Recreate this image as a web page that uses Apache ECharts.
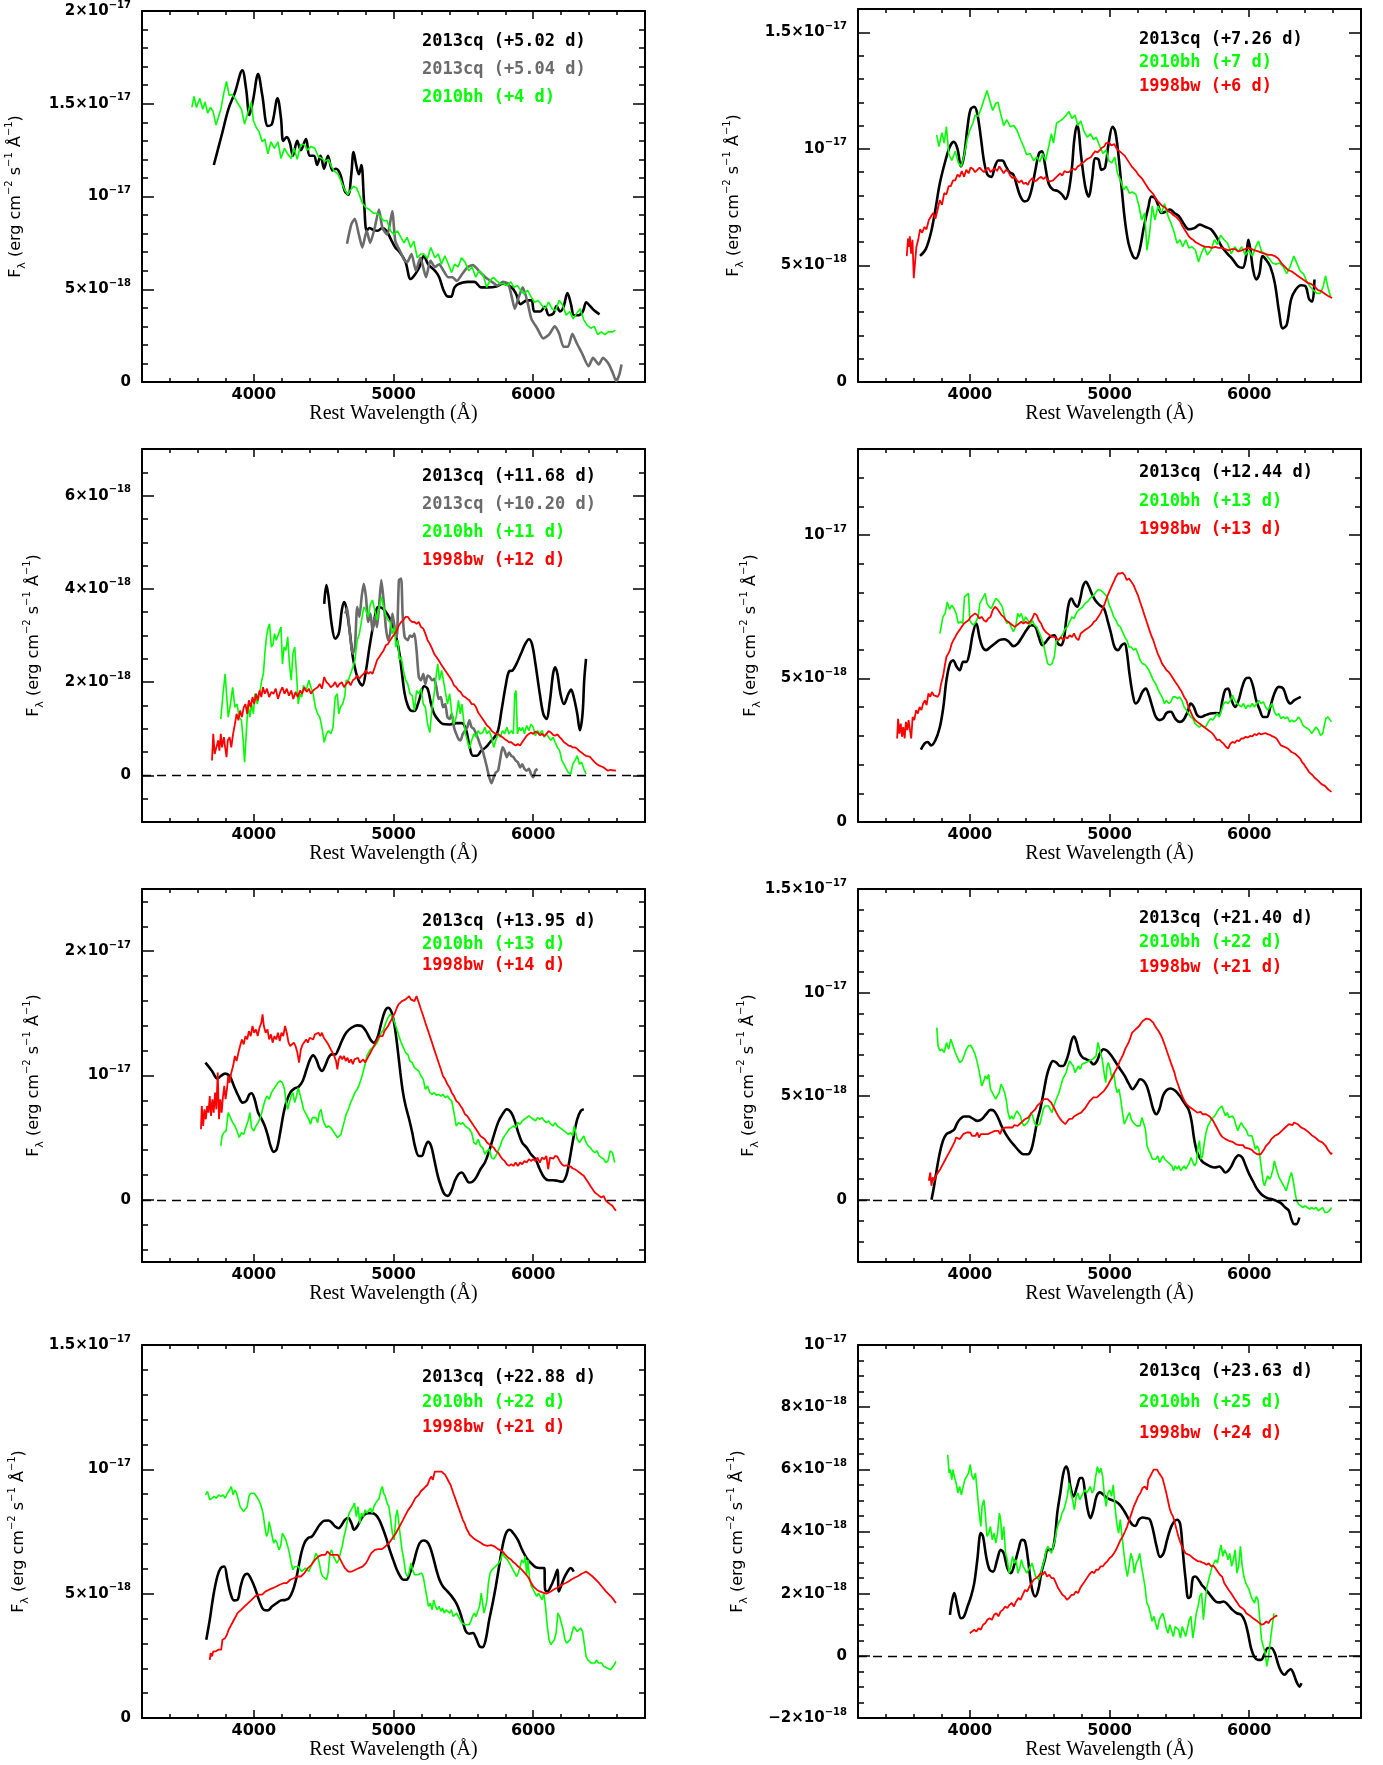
<!DOCTYPE html>
<html>
<head>
<meta charset="utf-8">
<script src="https://cdn.jsdelivr.net/npm/echarts@6/dist/echarts.min.js"></script>
<style>
html, body { margin: 0; background: #fff; }
#chart { width: 1383px; height: 1765px; }
</style>
</head>
<body>
<div id="chart"></div>
<script>
// wavelength in Angstrom, flux in units of 1e-18 erg cm^-2 s^-1 A^-1

// ---- panel 1 ----
const p1Cq = [[3714,11.7],[3770,13.3],[3818,14.7],[3865,15.6],[3918,16.8],[3945,15.8],[3969,14.4],[3995,15.2],[4031,16.6],[4060,15.5],[4101,13.8],[4130,13.9],[4170,15.3],[4195,14.2],[4211,13.0],[4236,13.2],[4258,12.9],[4280,12.2],[4311,13.0],[4336,12.5],[4374,13.1],[4399,12.2],[4431,12.2],[4453,11.7],[4478,12.2],[4503,11.5],[4531,12.2],[4563,11.4],[4588,11.5],[4619,11.2],[4651,10.3],[4676,10.1],[4698,11.2],[4714,12.4],[4733,11.7],[4752,11.2],[4770,11.7],[4789,9.75],[4808,8.15],[4827,8.3],[4855,8.2],[4887,8.15],[4918,8.3],[4950,8.15],[4981,7.7],[5013,7.25],[5044,7.0],[5085,6.5],[5123,5.55],[5154,5.8],[5186,6.2],[5217,6.8],[5248,6.35],[5296,6.0],[5327,5.65],[5358,4.95],[5390,4.6],[5412,4.6],[5437,5.1],[5469,5.3],[5531,5.4],[5579,5.4],[5626,5.1],[5673,5.1],[5736,5.15],[5783,5.3],[5846,5.1],[5877,4.75],[5909,4.2],[5956,4.4],[5987,4.4],[6009,3.8],[6050,3.8],[6082,4.05],[6113,3.6],[6145,3.7],[6167,4.1],[6192,3.8],[6217,4.05],[6245,4.8],[6270,4.2],[6292,3.6],[6324,3.6],[6355,3.8],[6380,4.3],[6406,4.1],[6437,3.85],[6475,3.65]];
const p1CqB = [[4667,7.45],[4698,8.5],[4723,8.8],[4752,7.95],[4777,7.25],[4808,8.15],[4833,7.5],[4865,8.3],[4896,9.3],[4921,8.3],[4956,7.95],[4991,9.2],[5013,7.6],[5044,7.1],[5075,6.6],[5097,6.45],[5129,6.9],[5160,6.0],[5192,6.7],[5233,5.65],[5264,6.55],[5296,6.2],[5327,6.35],[5358,6.0],[5390,5.65],[5421,5.65],[5453,5.45],[5494,5.85],[5531,6.2],[5569,6.3],[5610,6.0],[5657,5.65],[5704,5.4],[5745,5.2],[5783,5.4],[5821,5.3],[5846,4.6],[5868,3.95],[5893,4.5],[5925,5.1],[5956,4.4],[5987,3.4],[6028,2.9],[6072,2.35],[6113,2.55],[6154,3.0],[6186,2.6],[6217,1.9],[6249,1.9],[6280,2.6],[6311,2.1],[6349,1.55],[6396,0.85],[6428,1.3],[6469,0.95],[6500,1.3],[6538,1.0],[6569,0.5],[6594,0.05],[6616,0.4],[6632,0.95]];
const p1Bh = [[3557,14.8],[3572,15.4],[3590,14.8],[3613,15.3],[3635,14.7],[3651,15.1],[3670,14.5],[3690,14.8],[3708,14.6],[3730,13.85],[3748,14.3],[3764,14.7],[3786,15.6],[3805,16.2],[3824,15.45],[3845,15.5],[3865,15.3],[3887,15.0],[3912,14.7],[3934,13.9],[3959,14.55],[3981,15.1],[3997,14.1],[4016,13.75],[4038,13.5],[4060,12.95],[4079,13.1],[4101,12.3],[4123,12.95],[4148,12.6],[4173,12.95],[4195,12.05],[4220,12.6],[4242,12.3],[4267,12.05],[4289,12.6],[4311,12.0],[4336,12.8],[4362,12.8],[4384,12.5],[4409,12.7],[4437,12.6],[4462,12.15],[4487,12.05],[4509,11.9],[4535,12.0],[4557,11.6],[4579,11.35],[4604,11.2],[4626,10.8],[4651,10.35],[4673,10.1],[4692,10.35],[4714,10.55],[4736,10.45],[4755,10.1],[4777,9.65],[4802,9.4],[4827,9.3],[4855,9.1],[4880,9.1],[4903,8.95],[4928,8.7],[4953,8.7],[4978,8.15],[5003,7.95],[5028,8.15],[5053,7.8],[5075,7.5],[5097,7.8],[5123,7.25],[5145,7.6],[5170,6.7],[5195,6.9],[5217,6.9],[5242,6.65],[5267,7.25],[5296,6.7],[5321,6.9],[5343,6.35],[5368,6.8],[5393,6.35],[5415,5.9],[5437,6.35],[5462,6.2],[5487,6.7],[5513,6.45],[5538,6.0],[5563,6.2],[5588,5.65],[5613,6.0],[5642,5.75],[5667,5.1],[5689,5.45],[5714,5.65],[5739,5.45],[5764,5.3],[5789,5.3],[5814,5.2],[5840,5.4],[5862,5.1],[5887,5.2],[5909,4.95],[5934,4.75],[5959,4.95],[5984,4.6],[6009,4.3],[6035,4.4],[6060,4.15],[6085,3.95],[6110,4.3],[6135,3.95],[6160,3.85],[6186,4.4],[6211,4.15],[6236,3.6],[6261,3.8],[6286,3.4],[6311,3.7],[6336,3.95],[6362,3.35],[6387,3.05],[6412,2.9],[6437,3.0],[6462,2.55],[6487,2.7],[6513,2.55],[6538,2.7],[6569,2.7],[6588,2.8]];

// ---- panel 2 ----
const p2Cq = [[3644,5.41],[3685,5.7],[3722,6.4],[3754,7.4],[3785,8.5],[3826,9.5],[3858,10.1],[3886,10.3],[3912,10.0],[3937,9.25],[3959,9.7],[3984,10.95],[4006,11.7],[4032,11.8],[4054,11.5],[4079,10.5],[4101,9.5],[4126,8.9],[4155,8.8],[4180,9.25],[4205,9.5],[4233,9.5],[4259,9.25],[4284,9.0],[4312,8.9],[4338,8.4],[4363,7.95],[4391,7.75],[4416,7.8],[4442,8.25],[4470,9.1],[4495,9.8],[4517,9.9],[4536,9.4],[4565,8.5],[4596,8.25],[4628,8.2],[4659,8.05],[4685,7.85],[4710,8.25],[4732,9.25],[4748,10.4],[4767,11.0],[4779,10.8],[4795,9.8],[4826,8.4],[4852,7.95],[4874,8.65],[4899,9.6],[4921,9.55],[4943,9.1],[4968,9.2],[4994,10.25],[5022,10.95],[5041,10.75],[5063,9.8],[5088,8.25],[5110,6.95],[5136,5.95],[5167,5.4],[5189,5.3],[5215,5.65],[5246,6.65],[5278,7.5],[5300,7.95],[5325,7.9],[5347,7.6],[5372,7.25],[5401,7.3],[5432,7.4],[5464,7.25],[5498,7.1],[5530,6.8],[5568,6.55],[5606,6.6],[5647,6.75],[5688,6.65],[5726,6.55],[5763,6.25],[5804,5.8],[5845,5.5],[5883,5.25],[5921,4.95],[5953,4.9],[5978,5.4],[5994,6.1],[6009,5.65],[6028,4.8],[6050,4.4],[6073,4.65],[6095,5.4],[6120,5.25],[6151,4.95],[6183,4.25],[6215,2.95],[6240,2.3],[6268,2.45],[6300,3.55],[6331,3.95],[6372,4.15],[6404,4.1],[6429,3.55],[6451,3.45],[6467,4.4]];
const p2Bh = [[3763,10.6],[3779,10.1],[3801,10.7],[3817,10.25],[3833,10.95],[3849,9.8],[3871,9.5],[3896,9.9],[3918,9.4],[3940,9.25],[3959,9.7],[3981,10.4],[4000,10.8],[4022,11.1],[4038,11.45],[4060,11.4],[4085,11.8],[4107,12.2],[4123,12.5],[4142,12.1],[4164,11.65],[4186,11.95],[4202,12.0],[4221,11.5],[4243,11.0],[4265,11.25],[4290,10.95],[4315,11.0],[4338,10.8],[4363,10.4],[4385,10.1],[4407,9.75],[4432,9.8],[4457,9.5],[4479,9.65],[4502,9.45],[4521,9.8],[4543,9.5],[4565,10.1],[4584,10.65],[4599,10.25],[4621,11.1],[4647,11.2],[4669,11.3],[4691,11.45],[4710,11.6],[4732,11.3],[4754,11.45],[4773,11.0],[4795,11.2],[4817,10.75],[4842,10.5],[4864,10.65],[4886,10.4],[4905,10.5],[4931,10.1],[4953,9.8],[4975,9.95],[4994,9.5],[5016,9.4],[5038,9.65],[5057,8.95],[5079,8.65],[5101,8.25],[5120,8.4],[5142,8.1],[5164,8.15],[5189,8.05],[5211,7.55],[5230,6.95],[5252,7.25],[5268,5.65],[5287,6.4],[5306,7.55],[5325,6.95],[5347,7.55],[5372,7.25],[5394,7.65],[5420,7.1],[5441,6.8],[5464,6.4],[5483,5.95],[5505,6.1],[5524,5.8],[5546,6.1],[5568,5.75],[5590,5.8],[5615,5.65],[5637,5.15],[5656,5.5],[5678,5.8],[5700,5.45],[5726,5.65],[5751,6.1],[5773,5.9],[5795,6.3],[5820,6.1],[5845,5.95],[5871,5.5],[5896,5.8],[5921,5.6],[5946,5.8],[5972,5.45],[5997,5.65],[6022,5.4],[6047,5.8],[6066,6.05],[6088,5.6],[6114,5.5],[6142,5.3],[6167,5.1],[6192,5.05],[6218,5.1],[6243,4.95],[6268,4.65],[6293,4.95],[6319,5.4],[6341,5.1],[6366,4.75],[6388,4.65],[6413,4.3],[6435,4.1],[6457,3.95],[6483,3.8],[6508,3.8],[6530,4.1],[6546,4.55],[6562,4.1],[6584,3.6]];
const p2Bw = [[3549,5.4],[3558,6.15],[3565,5.8],[3571,6.25],[3580,5.5],[3590,6.1],[3599,4.45],[3606,4.5],[3618,5.8],[3631,6.1],[3644,6.55],[3659,6.4],[3675,6.65],[3690,6.55],[3707,6.95],[3722,7.1],[3738,7.25],[3754,7.0],[3770,7.4],[3785,7.8],[3801,7.6],[3817,8.1],[3833,8.05],[3849,8.4],[3864,8.4],[3880,8.65],[3896,8.65],[3912,8.9],[3927,8.8],[3943,9.05],[3959,8.8],[3975,9.1],[3991,8.95],[4006,9.2],[4022,9.15],[4038,9.0],[4054,9.1],[4070,9.2],[4085,9.1],[4101,9.0],[4117,9.1],[4132,9.2],[4148,9.0],[4164,9.1],[4180,9.15],[4195,9.05],[4211,9.25],[4227,9.1],[4243,8.95],[4258,9.1],[4274,9.05],[4290,8.85],[4306,8.75],[4321,8.8],[4338,8.65],[4353,8.55],[4369,8.65],[4385,8.5],[4401,8.55],[4416,8.45],[4426,8.6],[4448,8.75],[4463,8.6],[4479,8.65],[4495,8.75],[4511,8.8],[4527,8.7],[4543,8.8],[4558,8.65],[4574,8.6],[4596,8.65],[4621,8.8],[4647,8.95],[4662,8.85],[4678,9.05],[4694,9.0],[4710,9.0],[4726,9.1],[4741,9.15],[4757,9.1],[4773,9.25],[4789,9.3],[4804,9.4],[4820,9.45],[4836,9.55],[4852,9.6],[4868,9.65],[4884,9.8],[4899,9.9],[4915,9.85],[4931,9.95],[4946,10.05],[4962,10.1],[4975,10.25],[4984,10.2],[5000,10.25],[5011,10.15],[5022,10.1],[5035,10.2],[5047,10.05],[5060,9.95],[5069,9.95],[5082,9.85],[5095,9.8],[5110,9.7],[5126,9.55],[5142,9.4],[5158,9.25],[5173,9.15],[5189,9.05],[5205,8.9],[5221,8.8],[5236,8.7],[5252,8.55],[5268,8.4],[5284,8.25],[5300,8.15],[5315,8.05],[5331,7.85],[5347,7.75],[5362,7.65],[5378,7.55],[5394,7.5],[5410,7.4],[5426,7.3],[5442,7.25],[5458,7.15],[5473,7.1],[5490,7.0],[5505,6.9],[5521,6.7],[5536,6.55],[5552,6.4],[5568,6.25],[5584,6.15],[5599,6.1],[5615,6.0],[5631,5.95],[5646,5.9],[5662,5.85],[5686,5.8],[5710,5.8],[5733,5.75],[5757,5.8],[5780,5.75],[5804,5.75],[5828,5.7],[5852,5.65],[5875,5.7],[5899,5.7],[5922,5.6],[5946,5.65],[5970,5.7],[5994,5.75],[6018,5.7],[6041,5.65],[6065,5.6],[6088,5.55],[6112,5.5],[6136,5.45],[6160,5.45],[6183,5.4],[6207,5.3],[6230,5.1],[6254,4.95],[6278,4.8],[6302,4.75],[6325,4.65],[6349,4.55],[6372,4.45],[6396,4.35],[6420,4.25],[6444,4.2],[6467,4.1],[6490,3.95],[6514,3.9],[6538,3.8],[6562,3.7],[6593,3.6]];

// ---- panel 3 ----
const p3Cq = [[4504,3.68],[4520,4.08],[4535,3.83],[4557,3.25],[4583,2.93],[4608,3.04],[4630,3.54],[4646,3.72],[4661,3.61],[4683,3.18],[4709,2.54],[4734,2.18],[4756,2.0],[4778,1.93],[4803,2.25],[4828,2.75],[4860,3.29],[4891,3.61],[4923,3.58],[4954,3.47],[4986,3.29],[5017,3.0],[5043,2.61],[5061,2.18],[5080,1.75],[5102,1.5],[5124,1.39],[5150,1.38],[5175,1.53],[5197,1.75],[5219,1.91],[5244,1.86],[5269,1.53],[5291,1.32],[5323,1.18],[5354,1.1],[5402,1.09],[5449,1.12],[5490,1.12],[5521,0.96],[5543,0.64],[5569,0.42],[5597,0.42],[5628,0.53],[5660,0.6],[5691,0.71],[5723,0.82],[5748,0.96],[5773,1.39],[5805,1.96],[5827,2.23],[5852,2.25],[5880,2.39],[5912,2.61],[5943,2.82],[5969,2.92],[5991,2.82],[6016,2.39],[6047,1.75],[6072,1.32],[6094,1.21],[6120,1.61],[6142,2.18],[6157,2.32],[6173,2.18],[6195,1.75],[6220,1.53],[6252,1.75],[6271,1.84],[6290,1.68],[6315,1.32],[6334,0.97],[6353,1.32],[6365,2.04],[6378,2.5]];
const p3CqB = [[4655,3.47],[4668,3.6],[4683,3.18],[4699,2.75],[4709,2.61],[4724,2.75],[4740,3.61],[4756,3.4],[4772,3.83],[4787,4.11],[4803,3.83],[4819,3.29],[4835,3.47],[4850,3.11],[4866,3.4],[4882,3.18],[4898,3.68],[4913,4.19],[4929,3.76],[4945,3.18],[4961,2.9],[4976,3.04],[4992,3.47],[5008,3.18],[5024,2.97],[5039,4.19],[5055,4.22],[5065,3.47],[5080,2.97],[5102,2.9],[5118,3.0],[5134,2.97],[5150,3.04],[5165,2.68],[5181,2.11],[5197,2.04],[5213,2.18],[5228,1.96],[5244,2.14],[5260,2.11],[5276,2.04],[5291,2.07],[5307,1.89],[5323,1.64],[5339,1.68],[5354,1.46],[5370,1.53],[5386,1.25],[5402,1.21],[5417,1.32],[5433,1.03],[5449,0.89],[5465,0.78],[5480,0.75],[5496,0.89],[5512,0.96],[5528,1.03],[5543,1.18],[5559,1.03],[5575,1.0],[5591,0.89],[5606,0.78],[5622,0.64],[5638,0.53],[5654,0.35],[5669,0.17],[5685,-0.04],[5701,-0.17],[5717,-0.04],[5732,0.06],[5748,0.1],[5764,0.35],[5780,0.6],[5795,0.53],[5811,0.39],[5827,0.49],[5843,0.42],[5858,0.39],[5874,0.32],[5890,0.28],[5906,0.17],[5921,0.24],[5937,0.14],[5953,0.1],[5969,0.14],[5984,0.03],[6000,-0.04],[6016,0.1],[6031,0.14]];
const p3Bh = [[3764,1.21],[3780,1.75],[3795,2.18],[3805,2.22],[3817,1.25],[3833,1.53],[3849,1.89],[3865,1.46],[3880,1.53],[3896,1.25],[3912,1.18],[3924,0.75],[3934,0.28],[3946,0.89],[3959,1.53],[3972,1.25],[3984,1.53],[3997,1.32],[4009,1.75],[4025,1.53],[4041,1.75],[4057,2.04],[4069,2.18],[4079,2.61],[4091,2.97],[4104,3.18],[4113,3.25],[4126,2.75],[4139,2.82],[4148,3.04],[4161,2.9],[4173,2.9],[4186,3.11],[4195,3.18],[4205,2.39],[4217,2.75],[4230,2.68],[4243,2.97],[4255,2.39],[4268,2.04],[4280,2.61],[4293,2.75],[4306,2.18],[4318,1.53],[4331,1.75],[4343,1.68],[4356,1.93],[4369,1.82],[4381,1.89],[4394,2.04],[4409,1.89],[4425,1.75],[4441,1.46],[4457,1.32],[4472,1.25],[4488,1.03],[4504,0.71],[4520,0.89],[4535,0.96],[4551,0.89],[4567,1.03],[4583,1.68],[4598,1.75],[4608,1.32],[4620,1.46],[4636,1.53],[4652,1.71],[4661,2.04],[4677,2.04],[4693,2.18],[4709,2.32],[4724,2.47],[4740,2.9],[4756,3.04],[4772,3.33],[4787,3.61],[4803,3.54],[4819,3.4],[4835,3.68],[4850,3.76],[4866,3.54],[4882,3.33],[4898,3.61],[4913,3.83],[4929,3.61],[4945,3.43],[4961,3.33],[4976,3.29],[4992,3.04],[5008,3.18],[5017,2.75],[5030,2.9],[5043,2.47],[5055,2.54],[5071,2.25],[5087,2.04],[5102,1.96],[5118,1.75],[5134,1.71],[5150,1.39],[5165,1.82],[5181,1.75],[5197,1.86],[5213,1.53],[5228,1.46],[5244,1.1],[5260,0.92],[5276,1.46],[5291,1.75],[5307,2.18],[5317,2.39],[5329,2.04],[5345,2.25],[5357,2.04],[5370,1.82],[5386,1.53],[5402,1.75],[5417,1.32],[5433,1.1],[5449,1.25],[5465,1.61],[5477,1.32],[5490,1.53],[5502,1.18],[5515,0.89],[5528,0.75],[5543,0.57],[5559,0.75],[5575,0.89],[5591,0.82],[5606,0.96],[5622,0.89],[5638,0.92],[5654,1.03],[5669,0.89],[5685,0.96],[5701,0.82],[5717,0.6],[5732,0.75],[5748,0.89],[5764,0.82],[5780,0.96],[5795,0.89],[5811,1.03],[5827,0.89],[5843,0.96],[5858,0.89],[5868,1.75],[5877,1.82],[5887,0.89],[5900,1.03],[5912,0.96],[5924,1.03],[5937,0.89],[5953,1.07],[5969,0.96],[5984,1.1],[6000,1.03],[6016,0.85],[6031,0.96],[6047,0.89],[6063,0.96],[6079,0.82],[6094,0.89],[6110,0.82],[6126,0.75],[6142,0.82],[6157,0.71],[6173,0.6],[6189,0.53],[6205,0.32],[6220,0.24],[6236,0.14],[6252,0.06],[6268,0.03],[6283,0.24],[6299,0.32],[6315,0.42],[6331,0.24],[6346,0.28],[6362,0.14],[6378,0.03]];
const p3Bw = [[3701,0.32],[3710,0.89],[3720,0.46],[3732,0.6],[3745,0.75],[3754,0.53],[3764,0.89],[3773,0.6],[3786,0.82],[3795,0.6],[3805,0.39],[3814,0.75],[3827,0.82],[3839,0.6],[3852,0.89],[3865,1.1],[3877,1.32],[3890,1.18],[3902,1.39],[3915,1.25],[3928,1.46],[3940,1.53],[3953,1.32],[3965,1.61],[3978,1.46],[3991,1.68],[4003,1.53],[4016,1.75],[4028,1.61],[4041,1.82],[4054,1.68],[4066,1.89],[4079,1.75],[4094,1.86],[4110,1.68],[4126,1.79],[4142,1.75],[4157,1.86],[4173,1.64],[4189,1.79],[4205,1.89],[4220,1.75],[4236,1.86],[4252,1.71],[4268,1.82],[4283,1.64],[4299,1.79],[4315,1.68],[4331,1.82],[4346,1.75],[4362,1.89],[4378,1.79],[4394,1.86],[4409,1.75],[4425,1.82],[4441,1.86],[4457,1.89],[4472,1.96],[4488,1.86],[4504,2.11],[4520,2.0],[4535,1.96],[4551,1.89],[4567,1.93],[4583,2.0],[4598,1.89],[4614,1.96],[4630,2.0],[4646,1.89],[4661,1.96],[4677,2.02],[4693,1.93],[4709,2.04],[4724,2.07],[4740,2.14],[4756,2.07],[4772,2.14],[4787,2.18],[4803,2.25],[4819,2.18],[4835,2.22],[4850,2.18],[4866,2.32],[4882,2.47],[4898,2.54],[4913,2.61],[4929,2.68],[4945,2.79],[4961,2.82],[4976,2.9],[4992,2.97],[5008,3.04],[5024,3.11],[5039,3.22],[5055,3.29],[5071,3.33],[5087,3.4],[5102,3.4],[5118,3.33],[5134,3.29],[5150,3.29],[5165,3.25],[5181,3.29],[5197,3.18],[5213,3.15],[5228,3.04],[5244,2.9],[5260,2.82],[5276,2.72],[5291,2.61],[5307,2.54],[5323,2.47],[5339,2.39],[5354,2.32],[5370,2.25],[5386,2.18],[5402,2.11],[5417,2.04],[5433,1.93],[5449,1.89],[5465,1.82],[5480,1.79],[5496,1.71],[5512,1.68],[5528,1.64],[5543,1.61],[5559,1.53],[5575,1.53],[5591,1.46],[5606,1.35],[5622,1.28],[5638,1.21],[5654,1.14],[5669,1.07],[5685,1.03],[5701,0.96],[5717,0.92],[5732,0.89],[5748,0.89],[5764,0.85],[5780,0.82],[5795,0.78],[5811,0.75],[5827,0.71],[5843,0.71],[5858,0.67],[5874,0.64],[5890,0.67],[5906,0.64],[5921,0.71],[5937,0.78],[5953,0.85],[5969,0.89],[5984,0.92],[6000,0.89],[6016,0.94],[6031,0.92],[6047,0.86],[6063,0.89],[6079,0.84],[6094,0.89],[6110,0.95],[6126,0.92],[6142,0.87],[6157,0.85],[6173,0.88],[6189,0.82],[6205,0.77],[6220,0.71],[6236,0.68],[6252,0.64],[6268,0.63],[6283,0.6],[6299,0.6],[6315,0.57],[6331,0.52],[6346,0.49],[6362,0.45],[6378,0.42],[6394,0.41],[6409,0.39],[6425,0.33],[6441,0.28],[6457,0.24],[6472,0.21],[6488,0.19],[6504,0.17],[6520,0.13],[6535,0.1],[6551,0.12],[6567,0.11],[6592,0.1]];

// ---- panel 4 ----
const p4Cq = [[3650,2.52],[3676,2.73],[3698,2.79],[3723,2.67],[3754,2.85],[3786,3.31],[3811,4.01],[3833,4.94],[3858,5.52],[3880,5.64],[3906,5.41],[3928,5.29],[3953,5.58],[3975,5.58],[3997,5.87],[4022,6.57],[4047,6.92],[4069,6.45],[4091,6.1],[4117,5.99],[4148,6.1],[4180,6.22],[4211,6.34],[4249,6.37],[4280,6.28],[4312,6.13],[4343,6.22],[4375,6.45],[4406,6.69],[4438,6.86],[4469,6.8],[4494,6.45],[4520,6.16],[4545,6.28],[4573,6.45],[4605,6.51],[4630,6.22],[4652,6.16],[4674,6.4],[4690,7.03],[4709,7.62],[4728,7.79],[4747,7.62],[4769,7.5],[4791,7.79],[4809,8.2],[4831,8.37],[4853,8.2],[4872,7.97],[4898,7.73],[4929,7.56],[4961,7.44],[4986,7.03],[5011,6.57],[5036,6.1],[5061,5.99],[5087,6.16],[5109,6.22],[5124,5.93],[5143,5.17],[5165,4.48],[5187,4.13],[5209,4.24],[5235,4.53],[5260,4.65],[5282,4.42],[5307,4.01],[5332,3.66],[5358,3.55],[5383,3.6],[5408,3.8],[5439,3.84],[5471,3.6],[5502,3.49],[5528,3.55],[5559,3.84],[5581,4.13],[5603,4.01],[5628,3.72],[5654,3.66],[5685,3.72],[5723,3.78],[5761,3.8],[5786,3.78],[5808,4.24],[5827,4.59],[5849,4.65],[5874,4.24],[5899,4.01],[5924,4.24],[5950,4.71],[5975,5.0],[6000,5.03],[6025,4.77],[6050,4.24],[6076,3.9],[6101,3.66],[6126,3.66],[6151,4.01],[6180,4.48],[6211,4.71],[6243,4.65],[6274,4.24],[6296,4.13],[6321,4.24],[6369,4.36]];
const p4Bh = [[3786,6.57],[3795,6.8],[3808,7.15],[3824,7.27],[3839,7.67],[3855,7.41],[3871,7.56],[3887,7.44],[3902,7.27],[3918,6.92],[3934,6.98],[3950,6.92],[3962,7.85],[3975,7.91],[3991,7.97],[4000,7.03],[4013,6.92],[4028,6.86],[4044,6.98],[4060,7.15],[4072,7.62],[4085,7.73],[4098,7.85],[4110,7.97],[4123,7.62],[4139,7.5],[4154,7.44],[4170,7.62],[4186,7.79],[4202,7.73],[4218,7.62],[4233,7.5],[4249,7.15],[4265,6.92],[4280,6.98],[4296,6.8],[4312,6.63],[4328,6.8],[4343,7.27],[4356,7.15],[4369,7.27],[4384,6.98],[4400,7.15],[4416,7.03],[4431,6.86],[4447,7.03],[4463,6.86],[4479,6.8],[4494,6.63],[4510,6.45],[4526,6.22],[4542,5.87],[4557,5.52],[4573,5.47],[4589,5.52],[4605,5.76],[4620,6.34],[4636,6.34],[4652,6.45],[4668,6.57],[4683,6.74],[4699,6.8],[4715,6.98],[4731,7.15],[4746,7.09],[4762,7.27],[4778,7.38],[4794,7.44],[4809,7.5],[4825,7.62],[4841,7.67],[4857,7.76],[4872,7.85],[4888,7.91],[4904,8.02],[4920,8.1],[4935,8.08],[4951,8.02],[4967,7.94],[4983,7.85],[4998,7.56],[5014,7.38],[5030,7.15],[5046,7.03],[5061,6.86],[5077,6.8],[5093,6.63],[5109,6.45],[5124,6.34],[5140,6.1],[5156,6.1],[5172,5.99],[5187,6.05],[5203,5.87],[5219,5.64],[5235,5.52],[5250,5.5],[5266,5.41],[5282,5.29],[5298,5.12],[5313,4.94],[5329,4.83],[5345,4.65],[5361,4.48],[5376,4.36],[5392,4.13],[5408,4.24],[5424,4.13],[5439,4.19],[5455,4.36],[5471,4.36],[5487,4.3],[5502,4.36],[5518,4.24],[5534,4.01],[5550,3.9],[5565,3.78],[5581,3.66],[5597,3.6],[5613,3.43],[5628,3.37],[5644,3.31],[5660,3.37],[5676,3.31],[5691,3.34],[5707,3.49],[5723,3.6],[5739,3.55],[5754,3.66],[5770,3.78],[5786,3.66],[5802,3.9],[5817,4.13],[5833,4.19],[5849,4.13],[5865,4.24],[5880,4.42],[5896,4.24],[5912,4.13],[5928,4.07],[5943,4.01],[5959,4.13],[5975,3.95],[5991,4.07],[6006,4.01],[6022,4.13],[6038,4.01],[6054,4.13],[6069,4.24],[6085,4.13],[6101,4.19],[6117,4.01],[6132,3.9],[6148,4.01],[6164,4.13],[6180,3.84],[6195,3.72],[6211,3.78],[6227,3.6],[6243,3.66],[6258,3.6],[6274,3.66],[6290,3.49],[6306,3.55],[6321,3.49],[6337,3.55],[6353,3.66],[6369,3.55],[6384,3.37],[6400,3.31],[6416,3.26],[6432,3.2],[6447,3.08],[6463,3.2],[6479,3.31],[6495,3.2],[6510,3.02],[6526,3.08],[6535,3.31],[6548,3.6],[6564,3.66],[6580,3.55],[6589,3.49]];
const p4Bw = [[3480,2.91],[3487,3.6],[3496,3.08],[3506,3.43],[3515,2.97],[3524,3.31],[3534,2.91],[3543,3.49],[3553,3.2],[3562,3.55],[3572,3.2],[3581,2.91],[3591,3.66],[3603,3.55],[3616,3.9],[3628,3.78],[3641,4.01],[3654,3.9],[3666,4.13],[3679,4.24],[3691,4.07],[3704,4.48],[3717,4.36],[3729,4.53],[3742,4.42],[3754,4.48],[3770,4.36],[3783,4.48],[3795,4.83],[3808,5.06],[3820,5.41],[3833,5.76],[3846,5.87],[3858,5.99],[3871,6.22],[3883,6.34],[3896,6.45],[3909,6.57],[3921,6.63],[3934,6.74],[3946,6.8],[3959,6.92],[3975,6.98],[3991,7.03],[4006,7.15],[4022,7.21],[4038,7.27],[4054,7.21],[4069,7.09],[4085,7.15],[4101,7.03],[4117,6.98],[4132,7.09],[4148,7.15],[4164,7.38],[4180,7.5],[4195,7.44],[4211,7.33],[4227,7.21],[4243,7.15],[4258,7.03],[4274,6.98],[4290,6.92],[4306,6.86],[4321,6.8],[4337,6.86],[4353,6.92],[4369,6.98],[4384,6.92],[4400,6.98],[4416,6.92],[4431,6.98],[4447,7.09],[4463,7.27],[4479,7.21],[4494,7.03],[4510,6.92],[4526,6.74],[4542,6.63],[4557,6.57],[4573,6.51],[4589,6.45],[4605,6.45],[4620,6.4],[4636,6.34],[4652,6.45],[4668,6.34],[4683,6.45],[4699,6.4],[4715,6.51],[4731,6.45],[4746,6.57],[4762,6.4],[4778,6.34],[4794,6.57],[4809,6.63],[4825,6.69],[4841,6.74],[4857,6.8],[4872,6.86],[4888,6.98],[4904,7.03],[4920,7.15],[4935,7.27],[4951,7.44],[4967,7.62],[4983,7.85],[4998,8.02],[5014,8.2],[5030,8.37],[5046,8.55],[5061,8.66],[5077,8.66],[5093,8.69],[5109,8.6],[5124,8.43],[5140,8.49],[5156,8.37],[5172,8.26],[5187,8.08],[5203,7.91],[5219,7.67],[5235,7.44],[5250,7.21],[5266,6.98],[5282,6.74],[5298,6.51],[5313,6.34],[5329,6.1],[5345,5.87],[5361,5.7],[5376,5.52],[5392,5.41],[5408,5.29],[5424,5.23],[5439,5.12],[5455,5.0],[5471,4.88],[5487,4.77],[5502,4.65],[5518,4.53],[5534,4.36],[5550,4.24],[5565,4.01],[5581,3.84],[5597,3.66],[5613,3.55],[5628,3.49],[5644,3.43],[5660,3.37],[5676,3.31],[5691,3.26],[5707,3.2],[5723,3.14],[5739,3.08],[5754,2.97],[5770,2.85],[5786,2.87],[5802,2.79],[5817,2.73],[5833,2.62],[5849,2.56],[5865,2.73],[5880,2.79],[5896,2.76],[5912,2.85],[5928,2.82],[5943,2.91],[5959,2.91],[5975,2.97],[5990,2.94],[6006,3.0],[6022,2.98],[6038,3.06],[6054,3.03],[6069,3.1],[6085,3.05],[6101,3.08],[6117,3.1],[6132,3.06],[6148,3.04],[6164,2.99],[6180,2.96],[6195,2.91],[6211,2.79],[6227,2.67],[6240,2.66],[6252,2.62],[6265,2.6],[6277,2.56],[6290,2.5],[6302,2.44],[6315,2.42],[6328,2.38],[6340,2.33],[6353,2.27],[6366,2.2],[6378,2.09],[6391,2.02],[6403,1.92],[6416,1.84],[6428,1.74],[6441,1.7],[6454,1.63],[6466,1.55],[6479,1.51],[6491,1.45],[6504,1.4],[6517,1.32],[6529,1.28],[6542,1.26],[6554,1.22],[6566,1.13],[6573,1.1],[6589,1.05]];

// ---- panel 5 ----
const p5Cq = [[3654,11.03],[3701,10.36],[3739,9.75],[3764,9.96],[3795,10.15],[3827,9.96],[3858,9.16],[3890,8.35],[3921,7.82],[3946,7.95],[3969,8.49],[3984,8.57],[4006,8.09],[4031,7.01],[4057,6.48],[4079,5.94],[4101,5.14],[4120,4.34],[4142,3.86],[4164,4.07],[4189,5.41],[4214,7.01],[4236,7.95],[4261,8.62],[4290,8.94],[4321,9.1],[4350,9.56],[4378,10.5],[4403,11.3],[4425,11.62],[4447,11.3],[4469,10.63],[4488,10.36],[4510,10.76],[4535,11.43],[4557,11.7],[4583,11.7],[4605,12.1],[4630,12.77],[4661,13.44],[4699,13.84],[4740,14.03],[4772,13.98],[4803,13.57],[4835,12.9],[4860,12.64],[4885,13.04],[4913,14.24],[4939,15.18],[4961,15.45],[4986,15.1],[5008,13.98],[5030,12.1],[5049,10.23],[5068,8.62],[5087,7.55],[5112,6.48],[5134,5.41],[5156,4.2],[5181,3.53],[5203,3.53],[5225,4.2],[5247,4.66],[5269,4.34],[5291,3.27],[5317,1.93],[5339,1.12],[5364,0.46],[5389,0.32],[5414,0.72],[5439,1.53],[5465,2.06],[5490,2.2],[5515,1.79],[5540,1.39],[5565,1.45],[5591,1.79],[5622,2.46],[5654,3.0],[5685,3.94],[5717,5.14],[5748,6.21],[5780,6.88],[5811,7.28],[5843,7.01],[5868,6.35],[5893,5.41],[5921,4.61],[5953,4.2],[5984,3.67],[6016,3.27],[6047,2.46],[6079,1.79],[6110,1.58],[6142,1.58],[6173,1.53],[6205,1.45],[6236,1.93],[6261,3.27],[6290,5.14],[6315,6.48],[6340,7.15],[6362,7.28]];
const p5Bh = [[3764,4.34],[3773,5.14],[3786,5.41],[3802,5.54],[3817,7.01],[3833,6.61],[3849,6.21],[3865,5.94],[3880,5.54],[3896,5.01],[3912,5.41],[3928,5.27],[3943,5.81],[3959,6.35],[3972,7.01],[3984,5.81],[4000,5.54],[4016,5.94],[4031,6.21],[4047,6.61],[4063,7.28],[4079,7.95],[4094,8.35],[4110,8.09],[4126,8.62],[4142,8.89],[4157,9.16],[4173,9.42],[4189,9.56],[4205,9.42],[4220,8.89],[4230,7.95],[4243,7.28],[4255,7.82],[4268,8.35],[4280,8.62],[4293,7.82],[4306,8.35],[4318,9.02],[4331,8.89],[4343,7.95],[4356,7.28],[4369,7.01],[4381,6.88],[4394,6.48],[4406,6.08],[4419,6.61],[4431,6.75],[4444,6.61],[4457,6.21],[4469,7.01],[4482,7.28],[4494,6.48],[4507,6.08],[4520,5.81],[4535,5.94],[4551,5.81],[4567,5.54],[4583,5.27],[4598,5.01],[4611,4.87],[4624,5.27],[4636,5.81],[4649,6.35],[4661,6.88],[4677,7.28],[4693,7.82],[4709,8.22],[4724,8.62],[4740,8.89],[4756,9.29],[4772,9.83],[4787,10.5],[4797,10.9],[4809,11.57],[4822,11.83],[4835,12.1],[4850,12.24],[4866,12.37],[4882,12.64],[4898,13.04],[4913,13.44],[4929,13.71],[4945,14.24],[4961,14.65],[4976,14.91],[4992,14.78],[5008,14.24],[5024,13.71],[5039,13.17],[5055,12.64],[5071,12.24],[5087,11.83],[5102,11.7],[5118,11.16],[5134,11.03],[5150,10.63],[5165,10.5],[5181,10.36],[5197,9.96],[5213,9.69],[5228,8.89],[5244,9.16],[5260,8.62],[5276,8.49],[5291,8.62],[5307,8.41],[5323,8.49],[5339,8.35],[5354,8.49],[5370,8.22],[5386,8.35],[5402,8.09],[5417,7.95],[5433,7.01],[5449,5.94],[5465,6.21],[5480,6.08],[5496,6.21],[5512,5.94],[5528,5.81],[5543,5.68],[5559,5.41],[5575,4.61],[5591,4.47],[5606,4.87],[5622,4.34],[5638,4.2],[5654,3.67],[5669,3.94],[5685,4.07],[5701,3.4],[5717,3.27],[5732,3.53],[5748,3.94],[5764,4.34],[5780,4.87],[5795,5.14],[5811,5.41],[5827,5.68],[5843,5.81],[5858,5.94],[5874,5.81],[5890,6.21],[5906,6.08],[5921,6.35],[5937,6.48],[5953,6.61],[5969,6.75],[5984,6.61],[6000,6.48],[6016,6.35],[6031,6.61],[6047,6.48],[6063,6.61],[6079,6.35],[6094,6.21],[6110,6.35],[6126,6.08],[6142,5.94],[6157,6.21],[6173,5.94],[6189,5.81],[6205,5.68],[6220,5.54],[6236,5.41],[6252,5.27],[6268,5.41],[6283,5.14],[6293,5.94],[6302,5.94],[6315,4.87],[6331,4.61],[6346,4.87],[6362,5.14],[6378,4.61],[6394,4.34],[6409,4.2],[6425,3.94],[6441,3.8],[6457,3.94],[6472,3.53],[6488,3.4],[6504,3.27],[6520,3.0],[6535,3.13],[6551,3.94],[6567,3.8],[6583,3.0]];
const p5Bw = [[3622,5.68],[3628,7.55],[3638,5.94],[3647,7.28],[3657,6.48],[3666,7.55],[3676,7.01],[3685,8.35],[3694,6.75],[3704,8.09],[3713,7.01],[3723,8.62],[3732,7.28],[3742,10.23],[3751,6.48],[3761,8.09],[3770,7.01],[3780,8.35],[3789,9.16],[3798,8.09],[3808,8.89],[3817,9.96],[3827,9.42],[3839,10.23],[3852,10.76],[3865,11.57],[3877,11.16],[3890,11.83],[3902,12.37],[3915,12.9],[3928,12.5],[3940,13.17],[3953,12.9],[3965,13.57],[3978,13.17],[3991,13.98],[4003,13.44],[4016,13.71],[4028,13.17],[4041,13.84],[4054,14.24],[4063,14.91],[4072,13.98],[4085,13.44],[4098,13.71],[4110,12.9],[4123,13.31],[4135,12.64],[4148,13.17],[4161,12.9],[4173,13.44],[4186,12.77],[4198,13.44],[4211,13.17],[4224,13.98],[4236,13.44],[4249,12.64],[4261,12.37],[4274,12.24],[4287,12.64],[4299,12.37],[4312,11.83],[4324,11.03],[4337,12.1],[4350,12.5],[4362,12.37],[4375,12.9],[4387,12.64],[4400,13.04],[4413,13.17],[4425,12.9],[4438,13.31],[4450,13.17],[4463,13.44],[4476,13.17],[4488,13.44],[4501,13.04],[4513,13.17],[4526,12.64],[4539,12.37],[4551,12.1],[4564,11.83],[4576,11.57],[4589,11.16],[4598,10.5],[4608,11.3],[4620,11.57],[4633,11.3],[4646,11.57],[4658,11.16],[4671,11.43],[4683,11.03],[4696,11.3],[4709,10.9],[4721,11.3],[4734,11.16],[4746,11.43],[4759,11.03],[4772,11.16],[4784,11.3],[4797,11.03],[4809,11.3],[4822,11.57],[4835,11.83],[4847,12.1],[4860,12.37],[4872,12.64],[4885,12.9],[4898,13.17],[4910,13.31],[4923,13.17],[4935,13.57],[4948,13.44],[4961,13.98],[4973,14.24],[4986,14.51],[4998,14.78],[5011,15.05],[5024,15.45],[5036,15.72],[5049,15.85],[5061,15.98],[5074,15.98],[5087,16.12],[5099,16.25],[5112,16.39],[5124,16.12],[5137,16.25],[5150,15.98],[5165,16.39],[5181,15.85],[5197,15.31],[5213,14.78],[5228,14.24],[5244,13.71],[5260,13.17],[5276,12.64],[5291,12.1],[5307,11.57],[5323,11.03],[5339,10.5],[5354,9.96],[5370,9.69],[5386,9.29],[5402,9.02],[5417,8.62],[5433,8.35],[5449,7.95],[5465,7.82],[5480,7.55],[5496,7.28],[5512,6.88],[5528,6.75],[5543,6.48],[5559,6.21],[5575,5.94],[5591,5.68],[5606,5.41],[5622,5.14],[5638,5.01],[5654,4.87],[5669,4.61],[5685,4.47],[5701,4.34],[5717,4.2],[5732,3.94],[5748,3.8],[5764,3.53],[5780,3.27],[5795,3.13],[5811,2.86],[5827,2.73],[5843,2.86],[5858,2.73],[5874,3.0],[5890,2.73],[5906,3.0],[5921,2.86],[5937,3.13],[5953,3.0],[5969,3.27],[5984,3.13],[6000,3.27],[6016,3.13],[6031,3.4],[6047,3.0],[6063,3.4],[6079,3.27],[6094,3.53],[6107,2.46],[6120,3.4],[6132,3.53],[6145,3.32],[6157,3.53],[6173,3.48],[6189,3.13],[6205,2.86],[6220,2.73],[6236,2.78],[6252,2.73],[6268,2.68],[6283,2.52],[6299,2.46],[6315,2.33],[6331,2.2],[6346,2.06],[6362,1.93],[6378,1.66],[6394,1.39],[6409,1.12],[6425,0.86],[6441,0.59],[6457,0.46],[6472,0.32],[6488,0.19],[6504,0.32],[6520,-0.08],[6535,-0.21],[6551,-0.35],[6567,-0.48],[6583,-0.75],[6592,-0.88]];

// ---- panel 6 ----
const p6Cq = [[3726,0],[3745,0.68],[3764,1.48],[3786,2.28],[3808,2.85],[3833,3.17],[3865,3.28],[3890,3.41],[3912,3.73],[3934,3.92],[3959,4.02],[3991,4.02],[4022,3.92],[4054,3.81],[4085,3.89],[4117,4.13],[4148,4.34],[4173,4.29],[4202,3.97],[4227,3.57],[4258,3.17],[4290,2.85],[4321,2.6],[4353,2.36],[4384,2.2],[4416,2.2],[4441,2.44],[4463,3.09],[4485,3.89],[4504,4.37],[4526,5.1],[4551,5.98],[4573,6.46],[4595,6.7],[4620,6.62],[4646,6.46],[4668,6.46],[4690,6.7],[4709,7.11],[4728,7.67],[4746,7.88],[4765,7.59],[4784,7.11],[4809,6.86],[4835,6.78],[4860,6.7],[4885,6.54],[4910,6.7],[4935,7.11],[4957,7.27],[4983,7.19],[5014,6.95],[5046,6.62],[5077,6.3],[5109,5.98],[5140,5.58],[5165,5.34],[5194,5.58],[5219,5.82],[5244,5.74],[5266,5.5],[5288,5.02],[5313,4.37],[5335,4.13],[5357,4.37],[5383,5.02],[5408,5.29],[5439,5.37],[5471,5.26],[5502,5.02],[5534,4.69],[5565,4.37],[5587,3.81],[5606,2.93],[5628,2.28],[5660,1.88],[5691,1.72],[5723,1.61],[5754,1.56],[5786,1.61],[5808,1.48],[5827,1.32],[5849,1.4],[5874,1.64],[5899,1.99],[5924,2.15],[5950,2.04],[5975,1.64],[6000,1.24],[6025,0.92],[6050,0.59],[6076,0.35],[6101,0.19],[6132,0.08],[6164,0.03],[6195,-0.05],[6227,-0.16],[6258,-0.37],[6284,-0.53],[6302,-0.93],[6321,-1.17],[6337,-1.17],[6359,-0.85]];
const p6Bh = [[3764,8.31],[3773,7.43],[3786,7.19],[3801,7.27],[3817,7.11],[3833,7.59],[3849,7.27],[3864,7.75],[3880,7.43],[3896,7.11],[3912,6.86],[3928,6.62],[3943,6.7],[3959,6.95],[3975,7.27],[3991,7.43],[4006,7.46],[4022,7.27],[4038,7.03],[4054,6.62],[4069,6.14],[4085,5.5],[4101,5.74],[4110,5.98],[4123,5.82],[4135,6.06],[4148,5.34],[4161,5.18],[4173,5.02],[4186,4.86],[4198,4.94],[4211,5.18],[4224,5.58],[4236,5.42],[4249,5.18],[4262,4.78],[4274,4.21],[4287,3.89],[4299,4.05],[4312,3.89],[4325,4.13],[4337,4.29],[4350,4.21],[4362,4.05],[4375,3.73],[4387,3.57],[4400,3.65],[4413,3.73],[4425,3.89],[4438,4.21],[4450,4.05],[4463,3.73],[4476,3.57],[4488,3.49],[4501,3.65],[4513,3.97],[4526,4.37],[4539,4.53],[4551,4.61],[4564,4.53],[4576,4.37],[4589,4.21],[4602,4.53],[4614,4.78],[4627,4.86],[4639,5.18],[4652,5.5],[4665,5.82],[4677,5.98],[4690,6.14],[4702,6.46],[4715,6.7],[4728,6.78],[4740,6.46],[4753,6.14],[4765,6.3],[4778,6.46],[4791,6.3],[4803,6.54],[4816,6.46],[4828,6.62],[4841,6.54],[4854,6.7],[4866,6.62],[4879,6.78],[4891,6.7],[4904,6.95],[4917,7.59],[4926,7.67],[4935,7.11],[4948,6.78],[4961,6.14],[4973,5.66],[4983,6.46],[4992,6.62],[5005,6.3],[5017,5.82],[5030,6.14],[5043,5.5],[5055,5.18],[5068,5.34],[5080,4.86],[5093,4.21],[5106,3.65],[5118,3.73],[5131,4.05],[5143,4.21],[5156,3.89],[5169,3.73],[5181,3.81],[5194,3.57],[5206,3.49],[5219,3.57],[5232,3.97],[5244,4.05],[5257,3.41],[5269,2.6],[5282,2.36],[5295,2.2],[5307,1.96],[5320,2.04],[5332,1.96],[5345,2.12],[5358,1.8],[5370,1.88],[5383,2.12],[5395,1.96],[5408,2.04],[5421,1.8],[5433,1.88],[5446,1.64],[5458,1.4],[5471,1.64],[5484,1.48],[5496,1.64],[5509,1.4],[5521,1.48],[5534,1.64],[5546,1.48],[5559,1.64],[5572,1.8],[5584,2.04],[5597,1.8],[5609,1.64],[5622,1.8],[5635,2.6],[5644,2.85],[5654,1.96],[5666,2.12],[5679,2.77],[5691,3.25],[5704,3.57],[5717,3.73],[5729,3.89],[5742,3.97],[5754,4.05],[5767,4.13],[5780,4.37],[5792,4.45],[5805,4.53],[5817,4.29],[5830,4.05],[5843,4.21],[5855,3.97],[5868,3.89],[5880,4.05],[5893,3.89],[5906,3.57],[5918,3.33],[5931,3.57],[5943,3.73],[5956,3.57],[5969,3.49],[5981,3.33],[5994,3.09],[6006,3.01],[6019,3.09],[6032,2.77],[6044,2.44],[6057,2.6],[6069,2.44],[6082,1.8],[6091,1.32],[6101,0.84],[6110,0.68],[6120,0.92],[6132,1.16],[6145,1.0],[6158,1.16],[6170,1.48],[6180,1.88],[6189,1.8],[6202,1.32],[6214,1.08],[6227,0.92],[6240,0.76],[6252,0.68],[6265,0.43],[6277,0.51],[6290,1.08],[6302,1.32],[6315,0.92],[6328,0.35],[6340,-0.05],[6353,-0.21],[6369,-0.29],[6384,-0.37],[6400,-0.29],[6416,-0.37],[6432,-0.45],[6447,-0.37],[6463,-0.45],[6479,-0.37],[6495,-0.53],[6510,-0.45],[6526,-0.37],[6542,-0.61],[6557,-0.61],[6573,-0.53],[6589,-0.37]];
const p6Bw = [[3707,0.92],[3717,1.32],[3726,0.68],[3735,1.08],[3745,0.92],[3754,1.08],[3764,1.24],[3776,1.32],[3789,1.48],[3801,1.64],[3814,1.8],[3827,1.88],[3839,2.12],[3852,2.28],[3865,2.44],[3877,2.6],[3890,2.77],[3902,3.01],[3915,3.09],[3928,2.93],[3940,3.01],[3953,3.17],[3965,3.09],[3978,3.25],[3991,3.17],[4003,3.25],[4016,3.09],[4028,3.17],[4041,3.09],[4054,3.25],[4066,3.01],[4079,3.17],[4091,3.09],[4104,3.17],[4117,3.25],[4129,3.17],[4142,3.09],[4154,3.25],[4167,3.17],[4180,3.33],[4192,3.25],[4205,3.33],[4217,3.17],[4230,3.41],[4243,3.33],[4255,3.49],[4268,3.57],[4280,3.49],[4293,3.57],[4306,3.49],[4318,3.6],[4331,3.65],[4343,3.57],[4356,3.65],[4369,3.73],[4381,3.81],[4394,3.89],[4406,3.81],[4419,3.97],[4431,4.05],[4444,4.21],[4457,4.29],[4469,4.37],[4482,4.53],[4494,4.61],[4507,4.69],[4520,4.78],[4532,4.86],[4545,4.78],[4557,4.86],[4570,4.78],[4583,4.69],[4595,4.53],[4608,4.37],[4620,4.21],[4633,4.05],[4646,3.92],[4658,3.81],[4671,3.73],[4683,3.65],[4696,3.73],[4709,3.89],[4721,3.81],[4734,3.92],[4746,4.02],[4759,4.08],[4772,4.13],[4784,4.05],[4797,4.21],[4809,4.29],[4822,4.4],[4835,4.53],[4847,4.61],[4860,4.78],[4872,4.86],[4885,4.94],[4898,4.86],[4910,4.94],[4923,5.02],[4935,5.1],[4948,5.18],[4961,5.26],[4973,5.34],[4986,5.5],[4998,5.66],[5011,5.82],[5024,5.98],[5036,6.14],[5049,6.3],[5061,6.46],[5074,6.7],[5087,6.86],[5099,7.03],[5112,7.27],[5124,7.43],[5137,7.59],[5150,7.83],[5162,8.07],[5175,8.15],[5187,8.23],[5200,8.31],[5213,8.39],[5225,8.52],[5238,8.63],[5250,8.71],[5263,8.75],[5276,8.79],[5288,8.71],[5301,8.63],[5313,8.55],[5326,8.39],[5339,8.26],[5351,8.15],[5364,7.99],[5376,7.83],[5389,7.59],[5402,7.35],[5414,7.11],[5427,6.86],[5439,6.62],[5452,6.38],[5465,6.14],[5477,5.82],[5490,5.58],[5502,5.34],[5515,5.1],[5528,4.89],[5540,4.73],[5553,4.61],[5565,4.53],[5578,4.45],[5591,4.37],[5603,4.34],[5616,4.29],[5628,4.21],[5641,4.18],[5654,4.24],[5666,4.13],[5679,4.21],[5691,4.13],[5704,4.05],[5717,4.02],[5729,3.92],[5742,3.81],[5754,3.65],[5767,3.49],[5780,3.33],[5792,3.17],[5805,3.05],[5817,3.01],[5830,2.93],[5843,2.85],[5855,2.85],[5868,2.77],[5880,2.8],[5893,2.73],[5906,2.68],[5918,2.73],[5931,2.64],[5943,2.6],[5956,2.64],[5969,2.52],[5981,2.6],[5994,2.48],[6006,2.52],[6019,2.41],[6032,2.31],[6044,2.28],[6057,2.2],[6069,2.25],[6082,2.2],[6094,2.28],[6107,2.44],[6120,2.6],[6132,2.68],[6145,2.77],[6158,2.93],[6170,3.01],[6183,3.09],[6195,3.05],[6208,3.17],[6220,3.25],[6233,3.33],[6246,3.41],[6258,3.49],[6271,3.57],[6284,3.65],[6296,3.7],[6309,3.6],[6321,3.73],[6334,3.65],[6347,3.65],[6359,3.57],[6372,3.49],[6384,3.44],[6397,3.41],[6410,3.33],[6422,3.28],[6435,3.22],[6447,3.12],[6460,3.09],[6472,3.01],[6485,2.93],[6498,2.85],[6510,2.85],[6523,2.77],[6536,2.68],[6548,2.6],[6561,2.44],[6573,2.36],[6586,2.2],[6592,2.28]];

// ---- panel 7 ----
const p7Cq = [[3660,3.15],[3685,3.95],[3710,4.89],[3739,5.69],[3764,6.03],[3789,6.09],[3811,5.56],[3833,5.02],[3858,4.73],[3883,4.75],[3906,5.29],[3928,5.69],[3953,5.8],[3978,5.62],[4009,5.22],[4041,4.69],[4072,4.35],[4101,4.33],[4132,4.49],[4164,4.62],[4195,4.73],[4227,4.75],[4252,4.82],[4277,5.09],[4299,5.49],[4321,6.09],[4340,6.63],[4362,7.03],[4387,7.23],[4416,7.3],[4441,7.5],[4472,7.77],[4504,7.93],[4535,7.94],[4557,7.86],[4583,7.7],[4608,7.63],[4630,7.77],[4652,7.97],[4677,8.04],[4699,7.83],[4718,7.57],[4740,7.7],[4765,7.97],[4791,8.17],[4819,8.24],[4844,8.24],[4872,8.17],[4898,7.97],[4923,7.63],[4948,7.23],[4973,6.76],[4998,6.36],[5024,5.96],[5049,5.69],[5071,5.56],[5093,5.56],[5118,5.83],[5143,6.23],[5165,6.7],[5187,7.03],[5213,7.14],[5238,7.1],[5260,6.9],[5282,6.5],[5307,5.96],[5329,5.56],[5354,5.29],[5386,5.09],[5417,4.89],[5449,4.62],[5474,4.29],[5496,3.88],[5518,3.48],[5543,3.39],[5569,3.42],[5591,3.21],[5616,2.88],[5638,2.85],[5660,3.15],[5685,3.95],[5710,4.62],[5732,5.29],[5754,6.03],[5780,6.9],[5805,7.43],[5830,7.57],[5858,7.43],[5890,7.16],[5921,6.76],[5953,6.43],[5984,6.23],[6016,6.07],[6047,6.03],[6079,6.03],[6085,5.16],[6101,5.09],[6126,5.29],[6151,5.62],[6173,5.96],[6183,5.09],[6198,5.29],[6220,5.62],[6246,5.89],[6268,6.03],[6290,5.89]];
const p7Bh = [[3654,8.97],[3669,9.11],[3685,8.77],[3701,8.84],[3716,8.91],[3732,8.84],[3748,8.97],[3764,8.91],[3780,8.97],[3795,8.84],[3811,9.04],[3827,9.17],[3839,9.31],[3852,8.97],[3865,9.17],[3877,9.04],[3890,9.11],[3902,8.5],[3915,8.44],[3928,8.3],[3940,8.37],[3953,8.5],[3965,8.91],[3978,9.04],[3991,9.11],[4003,9.04],[4016,8.97],[4028,8.84],[4041,8.7],[4054,8.5],[4066,8.24],[4079,7.7],[4091,7.3],[4101,7.43],[4110,7.9],[4123,7.83],[4132,7.3],[4142,7.03],[4154,7.16],[4167,7.03],[4180,6.76],[4192,6.9],[4205,7.43],[4217,7.3],[4230,7.16],[4243,6.9],[4255,6.63],[4268,6.23],[4280,5.96],[4293,6.09],[4306,6.16],[4318,6.09],[4331,6.03],[4343,5.89],[4356,5.83],[4369,6.03],[4381,6.09],[4394,5.89],[4406,5.96],[4419,6.23],[4431,6.36],[4444,6.63],[4457,6.5],[4469,6.23],[4482,5.83],[4494,5.69],[4507,5.62],[4520,5.56],[4532,5.83],[4545,6.63],[4557,6.76],[4570,6.5],[4583,6.36],[4595,6.23],[4608,6.36],[4620,6.63],[4633,6.9],[4646,7.3],[4658,7.57],[4671,7.97],[4683,8.24],[4696,8.17],[4709,8.5],[4721,8.64],[4734,8.1],[4746,8.5],[4759,7.83],[4772,8.24],[4784,8.1],[4797,8.37],[4809,8.24],[4822,8.3],[4835,8.44],[4847,8.24],[4860,8.5],[4872,8.64],[4885,8.7],[4898,8.84],[4910,9.17],[4920,9.31],[4929,9.04],[4942,8.91],[4954,8.64],[4967,8.5],[4980,7.97],[4992,7.43],[5005,7.16],[5017,8.1],[5027,8.37],[5036,7.97],[5049,7.3],[5061,6.76],[5074,6.36],[5087,5.83],[5099,5.69],[5112,5.83],[5124,6.23],[5137,5.96],[5150,5.76],[5162,5.69],[5175,5.76],[5187,5.69],[5200,5.83],[5213,5.69],[5225,5.29],[5238,4.89],[5250,4.49],[5263,4.62],[5276,4.35],[5288,4.75],[5301,4.49],[5313,4.35],[5326,4.49],[5339,4.29],[5351,4.42],[5364,4.22],[5376,4.35],[5389,4.42],[5402,4.22],[5414,4.35],[5427,4.08],[5439,4.02],[5452,4.22],[5465,4.08],[5477,3.95],[5490,3.82],[5502,3.88],[5515,3.75],[5528,3.82],[5540,3.75],[5553,3.88],[5565,4.08],[5578,4.22],[5591,4.08],[5603,4.29],[5616,4.49],[5628,5.02],[5638,4.62],[5647,4.22],[5660,4.49],[5669,4.75],[5679,5.42],[5691,5.83],[5704,5.96],[5717,6.03],[5729,6.09],[5742,6.16],[5754,6.23],[5767,6.36],[5780,6.63],[5792,6.5],[5805,6.43],[5817,6.36],[5830,6.3],[5843,6.09],[5855,6.03],[5868,5.83],[5880,5.69],[5893,5.83],[5906,6.09],[5918,6.36],[5931,6.23],[5943,6.5],[5953,5.76],[5962,6.36],[5975,5.56],[5987,5.29],[6000,5.16],[6013,5.02],[6025,4.89],[6038,5.02],[6050,4.89],[6063,4.75],[6076,5.02],[6088,4.49],[6101,3.68],[6113,3.15],[6126,2.95],[6139,2.88],[6151,3.15],[6164,3.42],[6176,4.22],[6189,4.08],[6202,4.02],[6214,3.55],[6227,3.15],[6239,3.01],[6252,2.95],[6265,3.15],[6277,3.42],[6290,3.68],[6302,3.75],[6315,3.48],[6328,3.55],[6340,3.62],[6353,3.48],[6365,3.42],[6378,2.48],[6391,2.34],[6403,2.28],[6416,2.21],[6428,2.28],[6441,2.21],[6454,2.34],[6466,2.21],[6479,2.14],[6491,2.21],[6504,2.08],[6517,2.14],[6529,2.01],[6542,2.08],[6554,1.94],[6567,2.01],[6580,2.14],[6592,2.28]];
const p7Bw = [[3685,2.34],[3691,2.61],[3701,2.48],[3710,2.68],[3720,2.61],[3729,2.68],[3739,2.61],[3748,2.75],[3758,2.81],[3767,2.75],[3776,3.15],[3786,3.08],[3795,3.21],[3808,3.35],[3820,3.55],[3833,3.62],[3846,3.82],[3858,3.95],[3871,4.08],[3883,4.22],[3896,4.29],[3909,4.35],[3921,4.42],[3934,4.49],[3946,4.55],[3959,4.62],[3972,4.69],[3984,4.75],[3997,4.82],[4009,4.89],[4022,4.89],[4035,4.96],[4047,4.92],[4060,4.96],[4072,5.02],[4085,5.09],[4098,5.09],[4110,5.16],[4123,5.22],[4135,5.22],[4148,5.29],[4161,5.29],[4173,5.36],[4186,5.36],[4198,5.42],[4211,5.42],[4224,5.49],[4236,5.42],[4249,5.49],[4261,5.56],[4274,5.49],[4287,5.62],[4299,5.56],[4312,5.69],[4324,5.62],[4337,5.69],[4350,5.76],[4362,5.83],[4375,5.89],[4387,6.03],[4400,6.03],[4413,6.16],[4425,6.23],[4438,6.36],[4450,6.43],[4463,6.5],[4476,6.56],[4488,6.56],[4501,6.63],[4513,6.56],[4526,6.7],[4539,6.63],[4551,6.56],[4564,6.63],[4576,6.56],[4589,6.5],[4602,6.56],[4614,6.43],[4627,6.29],[4639,6.16],[4652,6.03],[4665,5.96],[4677,5.89],[4690,5.83],[4702,5.89],[4715,5.83],[4728,5.96],[4740,5.89],[4753,6.03],[4765,6.03],[4778,6.09],[4791,6.16],[4803,6.23],[4816,6.36],[4828,6.5],[4841,6.63],[4854,6.7],[4866,6.76],[4879,6.76],[4891,6.79],[4904,6.83],[4917,6.79],[4929,6.83],[4942,6.9],[4954,6.96],[4967,7.03],[4980,7.1],[4992,7.23],[5005,7.3],[5017,7.43],[5030,7.57],[5043,7.7],[5055,7.83],[5068,7.97],[5080,8.1],[5093,8.24],[5106,8.37],[5118,8.44],[5131,8.57],[5143,8.7],[5156,8.84],[5169,8.91],[5181,8.97],[5194,9.11],[5206,9.17],[5219,9.24],[5232,9.31],[5244,9.38],[5257,9.58],[5269,9.71],[5282,9.58],[5295,9.91],[5307,9.98],[5320,9.91],[5332,9.98],[5345,9.91],[5358,9.84],[5370,9.78],[5383,9.64],[5395,9.51],[5408,9.38],[5421,9.17],[5433,8.97],[5446,8.77],[5458,8.57],[5471,8.37],[5484,8.17],[5496,7.97],[5509,7.83],[5521,7.63],[5534,7.5],[5546,7.37],[5559,7.3],[5572,7.23],[5584,7.16],[5597,7.14],[5609,7.1],[5622,7.06],[5635,7.0],[5647,6.96],[5660,6.96],[5672,6.92],[5685,6.9],[5698,6.95],[5710,6.87],[5723,6.9],[5735,6.84],[5748,6.79],[5764,6.75],[5780,6.7],[5795,6.6],[5811,6.5],[5827,6.42],[5843,6.36],[5858,6.26],[5874,6.2],[5890,6.1],[5906,6.03],[5921,5.95],[5937,5.85],[5953,5.74],[5969,5.62],[5984,5.45],[6000,5.29],[6013,5.22],[6025,5.16],[6036,5.11],[6047,5.09],[6058,5.05],[6070,5.04],[6082,5.01],[6094,5.0],[6110,5.04],[6126,5.09],[6142,5.15],[6157,5.2],[6173,5.24],[6189,5.29],[6205,5.35],[6220,5.4],[6236,5.44],[6252,5.49],[6268,5.55],[6283,5.6],[6299,5.65],[6315,5.69],[6331,5.74],[6346,5.8],[6362,5.84],[6378,5.89],[6389,5.84],[6400,5.8],[6412,5.75],[6425,5.69],[6438,5.62],[6450,5.55],[6461,5.5],[6472,5.42],[6485,5.34],[6497,5.25],[6508,5.18],[6520,5.09],[6533,5.02],[6545,4.95],[6556,4.89],[6567,4.82],[6580,4.72],[6592,4.62]];

// ---- panel 8 ----
const p8Cq = [[3858,1.32],[3874,1.8],[3889,2.02],[3912,1.59],[3937,1.21],[3959,1.27],[3984,1.59],[4009,1.91],[4032,2.34],[4054,3.09],[4079,3.95],[4095,3.84],[4117,3.2],[4142,2.77],[4167,2.71],[4196,3.09],[4221,3.41],[4243,3.3],[4269,2.82],[4294,2.66],[4322,2.98],[4348,3.41],[4373,3.73],[4395,3.68],[4417,3.09],[4442,2.23],[4468,1.91],[4490,2.12],[4512,2.66],[4537,3.09],[4559,3.41],[4585,3.41],[4607,3.73],[4626,4.59],[4648,5.24],[4670,5.88],[4689,6.09],[4705,5.93],[4720,5.45],[4743,5.13],[4768,5.45],[4790,5.72],[4806,5.72],[4825,5.24],[4844,4.7],[4863,4.43],[4885,4.7],[4907,5.13],[4932,5.26],[4957,5.18],[4982,5.08],[5011,5.02],[5043,4.97],[5074,4.86],[5106,4.65],[5137,4.4],[5163,4.22],[5185,4.18],[5210,4.38],[5235,4.45],[5264,4.43],[5289,4.38],[5311,4.06],[5337,3.52],[5362,3.18],[5387,3.3],[5412,3.73],[5438,4.11],[5463,4.32],[5485,4.38],[5507,4.22],[5526,3.3],[5545,2.45],[5564,1.86],[5580,1.91],[5596,2.5],[5615,2.55],[5637,2.45],[5659,2.29],[5681,2.18],[5706,2.04],[5732,1.89],[5760,1.75],[5785,1.72],[5817,1.75],[5848,1.64],[5880,1.48],[5912,1.37],[5943,1.32],[5969,1.11],[5991,0.73],[6013,0.25],[6038,-0.04],[6063,-0.13],[6085,-0.13],[6107,0.03],[6133,0.25],[6158,0.25],[6183,0.09],[6205,-0.24],[6228,-0.5],[6253,-0.61],[6275,-0.5],[6297,-0.43],[6316,-0.56],[6338,-0.83],[6360,-0.99],[6373,-0.88]];
const p8Bh = [[3842,6.47],[3852,5.88],[3861,5.99],[3871,5.67],[3880,5.99],[3889,5.77],[3902,5.56],[3915,5.24],[3927,5.45],[3940,5.18],[3953,5.45],[3965,5.67],[3978,5.72],[3991,5.88],[4003,6.15],[4016,5.77],[4028,5.67],[4041,5.88],[4054,5.24],[4066,4.65],[4079,4.16],[4088,4.81],[4101,5.02],[4111,4.59],[4123,3.84],[4136,3.95],[4148,4.16],[4161,3.73],[4174,3.95],[4186,3.63],[4199,3.95],[4212,4.59],[4221,4.38],[4231,3.73],[4243,4.16],[4256,3.3],[4269,3.09],[4281,2.66],[4294,2.88],[4306,3.2],[4319,2.98],[4332,3.09],[4344,2.66],[4357,2.82],[4370,3.09],[4382,2.88],[4395,2.77],[4408,2.66],[4420,2.71],[4433,2.88],[4446,2.98],[4458,2.77],[4471,2.55],[4483,2.61],[4496,2.45],[4509,2.66],[4521,2.88],[4534,3.09],[4547,3.41],[4559,3.52],[4572,3.41],[4585,3.3],[4597,3.52],[4610,3.73],[4622,4.06],[4635,4.27],[4648,4.38],[4660,4.59],[4673,4.7],[4686,4.91],[4698,5.13],[4711,5.56],[4724,5.24],[4736,5.02],[4749,4.7],[4762,5.13],[4774,5.24],[4787,5.02],[4799,5.13],[4812,5.24],[4825,5.34],[4837,5.24],[4850,5.34],[4863,5.45],[4875,5.24],[4888,5.34],[4901,5.77],[4913,6.09],[4926,5.88],[4938,6.04],[4951,5.77],[4964,5.13],[4976,4.81],[4989,5.24],[5001,5.34],[5014,5.13],[5027,5.5],[5039,4.81],[5052,4.27],[5065,3.95],[5077,4.38],[5090,3.84],[5103,3.3],[5115,2.88],[5128,2.55],[5140,2.88],[5153,3.3],[5166,3.09],[5178,2.66],[5191,2.98],[5204,3.09],[5216,3.3],[5229,2.88],[5242,2.55],[5254,2.23],[5267,1.7],[5280,1.59],[5292,1.37],[5305,1.11],[5318,1.27],[5330,1.05],[5343,0.84],[5356,1.16],[5368,1.27],[5381,1.37],[5394,1.16],[5406,0.89],[5419,0.73],[5432,1.0],[5444,0.94],[5457,0.62],[5470,0.94],[5482,1.0],[5495,0.84],[5508,0.57],[5520,0.94],[5533,0.78],[5545,0.62],[5558,0.89],[5571,1.16],[5583,1.27],[5596,0.57],[5609,0.94],[5621,1.37],[5634,1.59],[5646,1.91],[5659,2.02],[5672,1.16],[5684,1.7],[5697,2.23],[5710,2.45],[5722,2.66],[5735,2.88],[5748,2.98],[5760,3.09],[5773,2.98],[5785,3.3],[5798,3.57],[5811,3.2],[5823,3.41],[5836,3.3],[5849,3.09],[5861,3.3],[5874,2.88],[5887,3.09],[5899,3.41],[5912,2.66],[5924,2.88],[5937,3.52],[5950,2.88],[5962,2.55],[5975,2.34],[5988,2.23],[6000,2.12],[6013,1.91],[6025,1.8],[6038,1.7],[6051,1.91],[6063,1.8],[6076,1.16],[6088,0.52],[6101,0.3],[6114,0.09],[6126,-0.34],[6139,-0.02],[6152,0.52],[6164,0.94],[6177,1.37]];
const p8Bw = [[4000,0.73],[4016,0.78],[4032,0.84],[4047,0.78],[4063,0.89],[4079,0.84],[4095,1.0],[4111,1.05],[4126,1.16],[4142,1.21],[4158,1.16],[4174,1.32],[4190,1.37],[4205,1.27],[4221,1.43],[4237,1.48],[4253,1.59],[4269,1.54],[4284,1.64],[4300,1.7],[4316,1.59],[4332,1.75],[4348,1.86],[4363,1.8],[4379,1.96],[4395,2.12],[4411,2.07],[4427,2.23],[4442,2.34],[4458,2.45],[4474,2.5],[4490,2.55],[4506,2.66],[4521,2.61],[4537,2.71],[4553,2.55],[4569,2.61],[4585,2.5],[4601,2.5],[4617,2.34],[4632,2.18],[4648,2.07],[4664,1.96],[4680,1.91],[4695,1.8],[4711,1.86],[4727,1.96],[4743,1.96],[4759,2.07],[4775,2.02],[4790,2.18],[4806,2.29],[4822,2.39],[4838,2.5],[4854,2.61],[4874,2.71],[4889,2.66],[4905,2.77],[4921,2.77],[4937,2.88],[4953,2.88],[4969,2.98],[4984,3.04],[5000,3.14],[5016,3.2],[5032,3.3],[5047,3.41],[5063,3.57],[5079,3.73],[5095,3.84],[5111,4.0],[5126,4.16],[5142,4.38],[5158,4.59],[5174,4.81],[5190,4.97],[5205,5.13],[5221,5.24],[5237,5.4],[5253,5.45],[5269,5.34],[5278,5.67],[5291,5.77],[5303,5.88],[5316,5.99],[5329,5.93],[5341,5.99],[5354,5.88],[5367,5.83],[5379,5.72],[5392,5.5],[5404,5.29],[5417,5.02],[5430,4.75],[5442,4.59],[5455,4.48],[5468,4.27],[5480,4.06],[5493,3.84],[5505,3.68],[5518,3.52],[5531,3.41],[5543,3.3],[5556,3.3],[5569,3.25],[5585,3.2],[5600,3.14],[5616,3.09],[5632,3.04],[5648,3.04],[5664,3.0],[5679,2.98],[5695,2.93],[5711,2.98],[5727,2.88],[5742,2.9],[5758,2.82],[5774,2.71],[5790,2.61],[5806,2.55],[5821,2.34],[5837,2.23],[5853,2.12],[5869,2.02],[5885,1.91],[5900,1.8],[5916,1.7],[5932,1.59],[5948,1.54],[5964,1.48],[5979,1.37],[5995,1.32],[6011,1.27],[6027,1.21],[6043,1.16],[6059,1.11],[6074,1.05],[6090,1.0],[6106,1.03],[6122,1.11],[6137,1.05],[6153,1.16],[6169,1.21],[6185,1.27],[6201,1.3]];

// ---- axes ----
const X_RANGE = [3200, 6800];
const X_MAJOR = [4000, 5000, 6000];
const X_MINOR_STEP = 200;

const Y_RANGES = [[0, 20], [0, 16], [-1, 7], [0, 13], [-5, 25], [-3, 15], [0, 15], [-2, 10]];
const Y_LABELS = [[0, 5, 10, 15, 20], [0, 5, 10, 15], [0, 2, 4, 6], [0, 5, 10], [0, 10, 20], [0, 5, 10, 15], [0, 5, 10, 15], [-2, 0, 2, 4, 6, 8, 10]];
const Y_MINOR_STEP = [1, 1, 0.5, 1, 2, 1, 1, 0.5];
const HAS_ZERO_LINE = [false, false, true, false, true, true, false, true];

// ---- lines and legend texts ----
const PANEL_LINES = [
  [[p1Cq, 'cq'], [p1CqB, 'cqb'], [p1Bh, 'bh']],
  [[p2Cq, 'cq'], [p2Bh, 'bh'], [p2Bw, 'bw']],
  [[p3Cq, 'cq'], [p3CqB, 'cqb'], [p3Bh, 'bh'], [p3Bw, 'bw']],
  [[p4Cq, 'cq'], [p4Bh, 'bh'], [p4Bw, 'bw']],
  [[p5Cq, 'cq'], [p5Bh, 'bh'], [p5Bw, 'bw']],
  [[p6Cq, 'cq'], [p6Bh, 'bh'], [p6Bw, 'bw']],
  [[p7Cq, 'cq'], [p7Bh, 'bh'], [p7Bw, 'bw']],
  [[p8Cq, 'cq'], [p8Bh, 'bh'], [p8Bw, 'bw']]
];
const PANEL_NAMES = [
  ['2013cq (+5.02 d)', '2013cq (+5.04 d)', '2010bh (+4 d)'],
  ['2013cq (+7.26 d)', '2010bh (+7 d)', '1998bw (+6 d)'],
  ['2013cq (+11.68 d)', '2013cq (+10.20 d)', '2010bh (+11 d)', '1998bw (+12 d)'],
  ['2013cq (+12.44 d)', '2010bh (+13 d)', '1998bw (+13 d)'],
  ['2013cq (+13.95 d)', '2010bh (+13 d)', '1998bw (+14 d)'],
  ['2013cq (+21.40 d)', '2010bh (+22 d)', '1998bw (+21 d)'],
  ['2013cq (+22.88 d)', '2010bh (+22 d)', '1998bw (+21 d)'],
  ['2013cq (+23.63 d)', '2010bh (+25 d)', '1998bw (+24 d)']
];

const COLORS = { cq: '#000000', cqb: '#6b6b6b', bh: '#00ff00', bw: '#ff0000' };
const WIDTHS = { cq: 2.6, cqb: 2.6, bh: 1.6, bw: 1.8 };
const SMOOTH = { cq: 0.35, cqb: 0.2, bh: false, bw: false };

// layout (pixels)
const GRID_W = 503, GRID_H = 373;
const LAYOUT = [
  { left: 142, top: 9, nameGap: 114, legX: 422, legY: [43, 71, 99] },
  { left: 858, top: 9, nameGap: 112, legX: 1139, legY: [41, 64, 88] },
  { left: 142, top: 449, nameGap: 96, legX: 422, legY: [478, 506, 534, 562] },
  { left: 858, top: 449, nameGap: 95, legX: 1139, legY: [474, 503, 531] },
  { left: 142, top: 889, nameGap: 96, legX: 422, legY: [923, 946, 967] },
  { left: 858, top: 889, nameGap: 95, legX: 1139, legY: [920, 944, 969] },
  { left: 142, top: 1345, nameGap: 111, legX: 422, legY: [1379, 1404, 1429] },
  { left: 858, top: 1345, nameGap: 108, legX: 1139, legY: [1373, 1404, 1435] }
];

function stepValues(lo, hi, step) {
  const out = [];
  const start = Math.ceil(lo / step - 1e-9) * step;
  for (let v = start; v <= hi + 1e-9; v += step) out.push(+v.toFixed(4));
  return out;
}

function fluxLabel(v) {
  if (v === 0) return '{a|0}';
  const exp = Math.abs(v) >= 10 ? 17 : 18;
  const mant = exp === 17 ? v / 10 : v;
  const m = mant === 1 ? '' : (mant < 0 ? '\u2212' + Math.abs(mant) : String(mant)) + '\u00d7';
  return '{a|' + m + '10}{s|\u2212' + exp + '}';
}

const labelRich = {
  a: { fontFamily: 'DejaVu Sans', fontWeight: 'bold', fontSize: 15, color: '#000', lineHeight: 22, verticalAlign: 'middle' },
  s: { fontFamily: 'DejaVu Sans', fontWeight: 'bold', fontSize: 10, color: '#000', lineHeight: 10, verticalAlign: 'top' }
};

const yNameRich = {
  n: { fontFamily: 'DejaVu Sans', fontSize: 16, color: '#000', lineHeight: 24, verticalAlign: 'middle' },
  l: { fontFamily: 'DejaVu Sans', fontSize: 11, color: '#000', lineHeight: 11, verticalAlign: 'bottom' },
  p: { fontFamily: 'DejaVu Sans', fontSize: 10, color: '#000', lineHeight: 10, verticalAlign: 'top' }
};
const Y_NAME = '{n|F}{l|\u03bb}{n| (erg cm}{p|\u22122}{n| s}{p|\u22121}{n| \u00c5}{p|\u22121}{n|)}';

const lineStyleAxis = { color: '#000', width: 2 };
const tickStyle = { color: '#000', width: 1.5 };

const grids = [], xAxes = [], yAxes = [], series = [], graphics = [];
const xMinor = stepValues(X_RANGE[0] + X_MINOR_STEP, X_RANGE[1] - X_MINOR_STEP, X_MINOR_STEP);

LAYOUT.forEach((L, i) => {
  grids.push({ left: L.left, top: L.top, width: GRID_W, height: GRID_H });
  const yr = Y_RANGES[i];
  const yMinor = stepValues(yr[0], yr[1], Y_MINOR_STEP[i]);
  const yMajor = Y_LABELS[i];

  const xc = { type: 'value', gridIndex: i, min: X_RANGE[0], max: X_RANGE[1], splitLine: { show: false } };
  xAxes.push(Object.assign({}, xc, {
    position: 'bottom',
    axisLine: { show: true, onZero: false, lineStyle: lineStyleAxis },
    axisTick: { show: true, inside: true, length: 8, customValues: X_MAJOR, lineStyle: tickStyle },
    axisLabel: {
      show: true, customValues: X_MAJOR, margin: 5, color: '#000',
      fontFamily: 'DejaVu Sans', fontWeight: 'bold', fontSize: 16,
      formatter: (v) => String(v)
    },
    name: 'Rest Wavelength (\u00c5)', nameLocation: 'middle', nameGap: 20,
    nameTextStyle: { color: '#000', fontFamily: 'Liberation Serif', fontSize: 20 }
  }));
  xAxes.push(Object.assign({}, xc, {
    position: 'bottom', axisLine: { show: false, onZero: false },
    axisTick: { show: true, inside: true, length: 4, customValues: xMinor, lineStyle: tickStyle },
    axisLabel: { show: false }
  }));
  xAxes.push(Object.assign({}, xc, {
    position: 'top', axisLine: { show: true, onZero: false, lineStyle: lineStyleAxis },
    axisTick: { show: true, inside: true, length: 8, customValues: X_MAJOR, lineStyle: tickStyle },
    axisLabel: { show: false }
  }));
  xAxes.push(Object.assign({}, xc, {
    position: 'top', axisLine: { show: false, onZero: false },
    axisTick: { show: true, inside: true, length: 4, customValues: xMinor, lineStyle: tickStyle },
    axisLabel: { show: false }
  }));

  const yc = { type: 'value', gridIndex: i, min: yr[0], max: yr[1], splitLine: { show: false } };
  yAxes.push(Object.assign({}, yc, {
    position: 'left',
    axisLine: { show: true, onZero: false, lineStyle: lineStyleAxis },
    axisTick: { show: true, inside: true, length: 12, customValues: yMajor, lineStyle: tickStyle },
    axisLabel: { show: true, customValues: yMajor, margin: 11, formatter: fluxLabel, rich: labelRich },
    name: Y_NAME, nameLocation: 'middle', nameRotate: 90, nameGap: L.nameGap,
    nameTextStyle: { rich: yNameRich }
  }));
  yAxes.push(Object.assign({}, yc, {
    position: 'left', axisLine: { show: false, onZero: false },
    axisTick: { show: true, inside: true, length: 6, customValues: yMinor, lineStyle: tickStyle },
    axisLabel: { show: false }
  }));
  yAxes.push(Object.assign({}, yc, {
    position: 'right', axisLine: { show: true, onZero: false, lineStyle: lineStyleAxis },
    axisTick: { show: true, inside: true, length: 12, customValues: yMajor, lineStyle: tickStyle },
    axisLabel: { show: false }
  }));
  yAxes.push(Object.assign({}, yc, {
    position: 'right', axisLine: { show: false, onZero: false },
    axisTick: { show: true, inside: true, length: 6, customValues: yMinor, lineStyle: tickStyle },
    axisLabel: { show: false }
  }));

  PANEL_LINES[i].forEach(([data, key], k) => {
    const s = {
      type: 'line', xAxisIndex: i * 4, yAxisIndex: i * 4, data: data,
      symbol: 'none', smooth: SMOOTH[key], silent: true,
      lineStyle: { color: COLORS[key], width: WIDTHS[key] },
      z: 2 + k
    };
    if (k === 0 && HAS_ZERO_LINE[i]) {
      s.markLine = {
        silent: true, symbol: 'none', label: { show: false },
        lineStyle: { color: '#000', type: [9, 6], width: 1.3 },
        data: [{ yAxis: 0 }]
      };
    }
    series.push(s);
  });

  PANEL_NAMES[i].forEach((name, k) => {
    const key = PANEL_LINES[i][k][1];
    graphics.push({
      type: 'text', left: L.legX, top: L.legY[k] - 10, z: 100,
      style: { text: name, fill: COLORS[key], font: 'bold 17px "DejaVu Sans Mono"' }
    });
  });
});

const chart = echarts.init(document.getElementById('chart'), null, { renderer: 'canvas' });
chart.setOption({
  animation: false,
  backgroundColor: '#ffffff',
  textStyle: { fontFamily: 'DejaVu Sans' },
  grid: grids,
  xAxis: xAxes,
  yAxis: yAxes,
  series: series,
  graphic: graphics
});
</script>
</body>
</html>
